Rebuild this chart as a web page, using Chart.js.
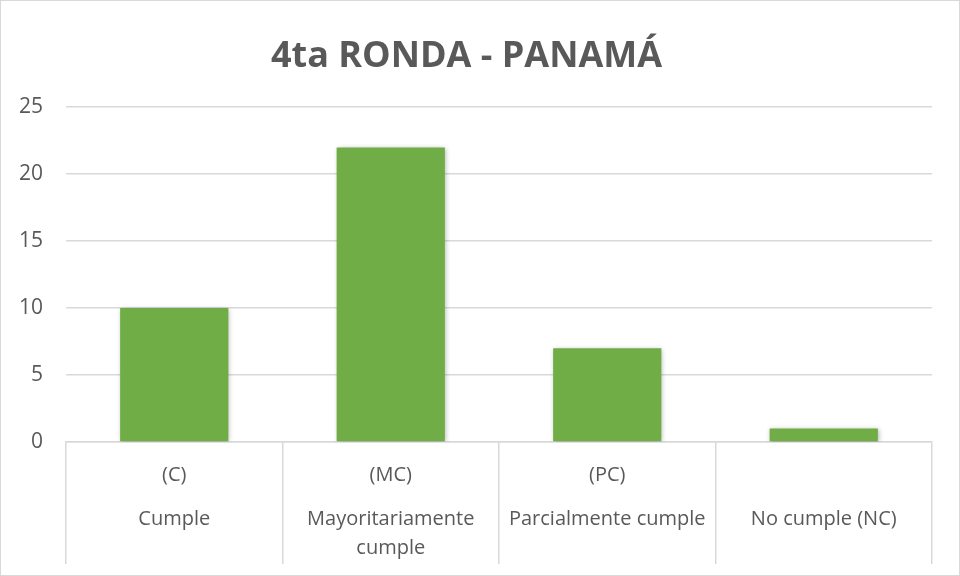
<!DOCTYPE html>
<html>
<head>
<meta charset="utf-8">
<script src="https://cdn.jsdelivr.net/npm/chart.js@4.4.0/dist/chart.umd.min.js"></script>
<style>
    html, body { margin: 0; padding: 0; background: #fff; }
    #wrap { width: 960px; height: 576px; box-sizing: border-box; border: 1px solid #d9d9d9; }
</style>
</head>
<body>
<div id="wrap"><canvas id="myChart" width="958" height="574"></canvas></div>
<script>
var titulo = '4ta RONDA - PANAMÁ';
// etiquetas en dos niveles (codigo arriba, nombre abajo); lineas vacias para separar niveles
var categorias = [
    ['(C)', '', '', 'Cumple'],
    ['(MC)', '', '', 'Mayoritariamente', '', 'cumple'],
    ['(PC)', '', '', 'Parcialmente cumple'],
    ['', '', '', 'No cumple (NC)']
];
var valores = [10, 22, 7, 1];
var eje_y = {min: 0, max: 25, paso: 5};

var gris = '#595959';
var linea = '#d9d9d9';

const sombra = {
    id: 'sombra',
    beforeDatasetDraw(chart) {
        chart.ctx.save();
        chart.ctx.shadowColor = 'rgba(0,0,0,0.3)';
        chart.ctx.shadowBlur = 5;
        chart.ctx.shadowOffsetX = 1;
        chart.ctx.shadowOffsetY = 1;
    },
    afterDatasetDraw(chart) {
        chart.ctx.restore();
    }
};

var ctx = document.getElementById('myChart').getContext('2d');
var myChart = new Chart(ctx, {
    type: 'bar',
    data: {
        labels: categorias,
        datasets: [{
            data: valores,
            backgroundColor: '#70ad47',
            categoryPercentage: 1.0,
            barPercentage: 0.5
        }]
    },
    plugins: [sombra],
    options: {
        responsive: false,
        animation: false,
        layout: {padding: {left: 0, right: 27, top: 0, bottom: 11}},
        plugins: {
            legend: {display: false},
            tooltip: {enabled: false},
            title: {
                display: true,
                text: titulo,
                color: gris,
                font: {family: 'Open Sans', size: 36, weight: 'bold'},
                padding: {top: 34, bottom: 29}
            }
        },
        scales: {
            y: {
                min: eje_y.min,
                max: eje_y.max,
                afterFit: function (scale) { scale.width = 65; },
                ticks: {
                    stepSize: eje_y.paso,
                    color: gris,
                    padding: 23,
                    font: {family: 'Open Sans', size: 21}
                },
                grid: {color: linea, drawTicks: false, lineWidth: 1.5},
                border: {display: false}
            },
            x: {
                afterFit: function (scale) { scale.height = 122; },
                ticks: {
                    color: gris,
                    padding: -96,
                    maxRotation: 0,
                    autoSkip: false,
                    font: {family: 'Open Sans', size: 20, lineHeight: 0.733}
                },
                grid: {
                    offset: true,
                    drawOnChartArea: false,
                    color: linea,
                    lineWidth: 1.5,
                    tickLength: 122
                },
                border: {color: linea, width: 1.5}
            }
        }
    }
});
</script>
</body>
</html>
